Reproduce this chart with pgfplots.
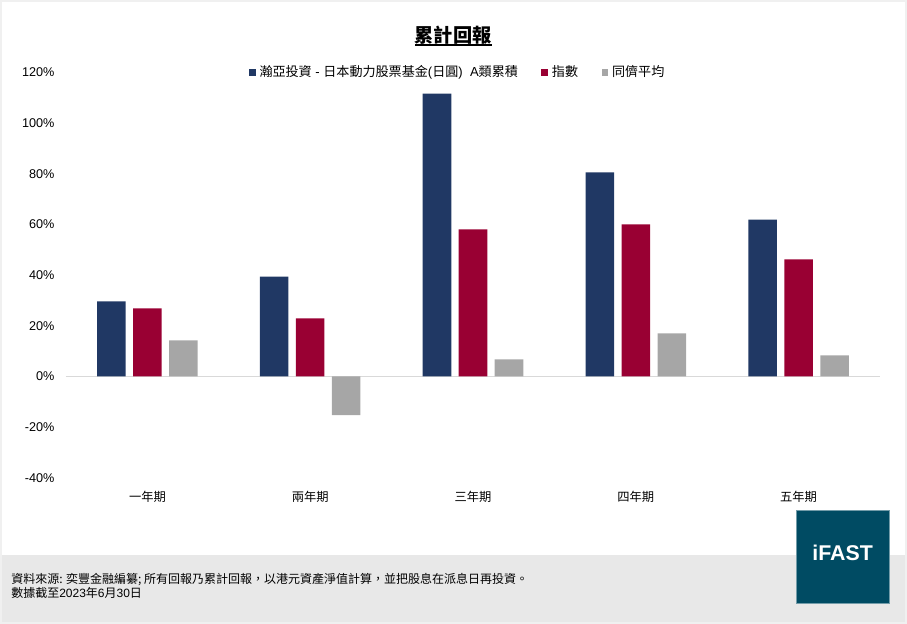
\documentclass[border=0pt]{standalone}
\usepackage{fontspec}
\setmainfont{Liberation Sans}
\newfontfamily\cjk{Noto Sans CJK TC}
\usepackage{pgfplots}
\pgfplotsset{compat=1.18}
\definecolor{navy}{HTML}{203864}
\definecolor{crim}{HTML}{990033}
\definecolor{grayb}{HTML}{A6A6A6}
\definecolor{foot}{HTML}{E8E8E8}
\definecolor{ifast}{HTML}{004B63}
\definecolor{zline}{HTML}{D9D9D9}
\begin{document}
\begin{tikzpicture}
\path[use as bounding box] (0,0) rectangle (680.25pt,-468pt);
\draw[color=black!6, line width=1.5pt] (0.75pt,-0.75pt) rectangle (679.5pt,-467.25pt);
\fill[foot] (1.5pt,-416.25pt) rectangle (678.75pt,-466.5pt);
\node[anchor=west, inner sep=0pt, font=\fontsize{9}{10}\selectfont] at (8.25pt,-434.5pt) {\cjk 資料來源: 奕豐金融編纂; 所有回報乃累計回報，以港元資產淨值計算，並把股息在派息日再投資。};
\node[anchor=west, inner sep=0pt, font=\fontsize{9}{10}\selectfont] at (8.25pt,-444.5pt) {{\cjk 數據截至}2023{\cjk 年}6{\cjk 月}30{\cjk 日}};
\fill[ifast, draw=ifast!55!white, line width=0.6pt] (597pt,-382.5pt) rectangle (666.75pt,-452.25pt);
\node[text=white, font=\fontsize{16}{18}\selectfont\bfseries, inner sep=0pt] at (632pt,-414.5pt) {iFAST};
\node[font=\fontsize{14.4}{16}\selectfont\bfseries, inner sep=0pt] at (339.75pt,-26.25pt) {\cjk\bfseries 累計回報};
\draw[line width=1.1pt] (311.25pt,-33.6pt) -- (369pt,-33.6pt);
\begin{axis}[
  at={(49.5pt,-358.3pt)}, anchor=south west,
  scale only axis, width=610.5pt, height=304.05pt,
  ybar, bar width=21.4pt,
  legend image code/.code={\fill[#1, draw=none] (0pt,-2.5pt) rectangle (4.9pt,2.5pt);},
  xmin=-0.5, xmax=4.5, ymin=-40, ymax=120,
  xtick={0,1,2,3,4},
  xticklabels={{\cjk 一年期},{\cjk 兩年期},{\cjk 三年期},{\cjk 四年期},{\cjk 五年期}},
  ytick={-40,-20,0,20,40,60,80,100,120},
  yticklabels={-40\%,-20\%,0\%,20\%,40\%,60\%,80\%,100\%,120\%},
  axis line style={draw=none},
  major tick length=0pt,
  yticklabel style={font=\fontsize{9.5}{11}\selectfont, anchor=east, inner sep=0pt, xshift=-8.5pt},
  xticklabel style={font=\fontsize{9.2}{11}\selectfont, anchor=center, inner sep=0pt, yshift=-14.5pt},
  extra y ticks={0}, extra y tick labels={},
  extra y tick style={grid=major, major grid style={color=zline, line width=0.9pt}},
  legend style={at={(0.2248,1)}, anchor=west, draw=none, fill=none, inner sep=0pt, outer sep=0pt,
    legend columns=3, font=\fontsize{9.8}{11}\selectfont,
    nodes={inner sep=0pt},
    /tikz/every odd column/.append style={column sep=3pt},
    /tikz/every even column/.append style={column sep=17.6pt}},
]
\addplot[fill=navy, draw=none, bar shift=-27pt] coordinates {(0,29.6) (1,39.4) (2,111.6) (3,80.5) (4,61.9)};
\addlegendentry{{\cjk 瀚亞投資} - {\cjk 日本動力股票基金}({\cjk 日圓})\ \ A{\cjk 類累積}}
\addplot[fill=crim, draw=none, bar shift=0pt] coordinates {(0,26.8) (1,22.9) (2,58.0) (3,60.0) (4,46.2)};
\addlegendentry{\cjk 指數}
\addplot[fill=grayb, draw=none, bar shift=27pt] coordinates {(0,14.2) (1,-15.3) (2,6.7) (3,17.0) (4,8.3)};
\addlegendentry{\cjk 同儕平均}
\end{axis}
\end{tikzpicture}
\end{document}
